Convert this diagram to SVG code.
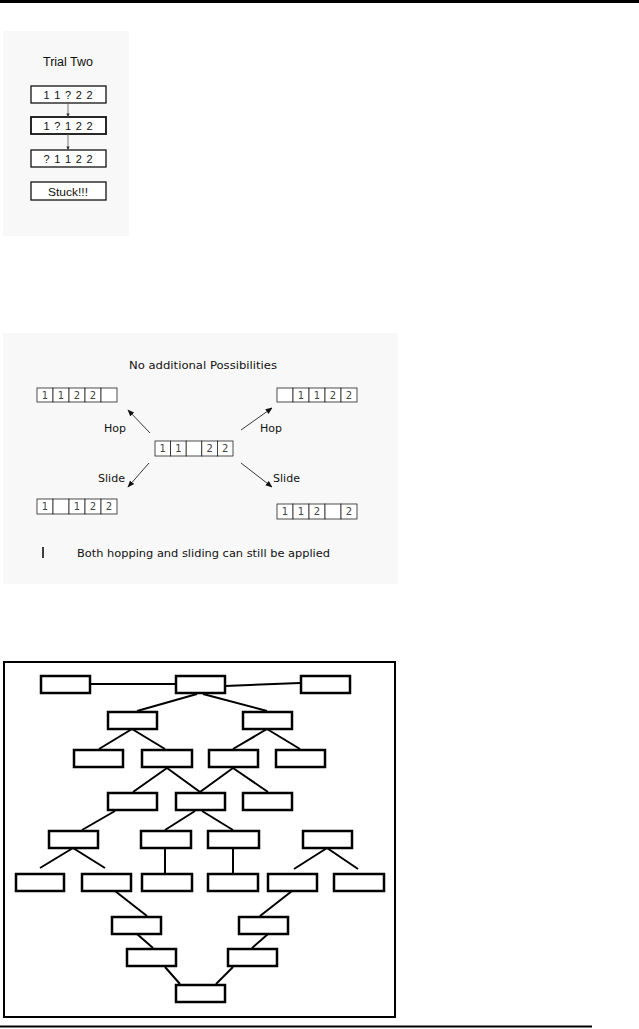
<svg xmlns="http://www.w3.org/2000/svg" width="639" height="1029" viewBox="0 0 639 1029">
<style>
.panel{fill:#f8f8f8}
.tb{fill:#fff;stroke:#111;stroke-width:1.3}
.tt{font-family:"Liberation Sans",Arial,sans-serif;font-size:11px;text-anchor:middle;fill:#111}
.cell{fill:#fff;stroke:#222;stroke-width:0.8}
.dg{font-family:"DejaVu Sans",Verdana,sans-serif;font-size:10px;text-anchor:middle;fill:#444}
.lb{font-family:"DejaVu Sans",Verdana,sans-serif;font-size:11px;fill:#111}
.ar{stroke:#222;stroke-width:0.9;fill:none;marker-end:url(#ah)}
.va{stroke:#555;stroke-width:0.8;fill:none;marker-end:url(#ah2)}
.nd{fill:#fff;stroke:#000;stroke-width:2.5}
.ed{stroke:#000;stroke-width:2;fill:none}
</style>
<defs>
<marker id="ah" viewBox="0 0 10 10" refX="9" refY="5" markerWidth="7" markerHeight="7" markerUnits="userSpaceOnUse" orient="auto"><path d="M0,1 L10,5 L0,9 Z" fill="#111"/></marker>
<marker id="ah2" viewBox="0 0 10 10" refX="9" refY="5" markerWidth="4" markerHeight="4" markerUnits="userSpaceOnUse" orient="auto"><path d="M0,1 L10,5 L0,9 Z" fill="#333"/></marker>
</defs>

<rect x="0" y="0" width="639" height="3" fill="#000"/>

<g id="panel-trial-two">
<rect class="panel" x="3" y="31" width="126" height="205"/>
<text class="tt" x="68" y="66" style="font-size:12.5px">Trial Two</text>
<g id="t1"><rect class="tb" x="31" y="86" width="75" height="17"/><text class="tt" x="68" y="98.5" textLength="49" lengthAdjust="spacing">1 1 ? 2 2</text></g>
<g id="t2"><rect class="tb" x="31" y="117" width="75" height="17" style="stroke-width:1.8"/><text class="tt" x="68" y="129.5" textLength="49" lengthAdjust="spacing">1 ? 1 2 2</text></g>
<g id="t3"><rect class="tb" x="31" y="150" width="75" height="17"/><text class="tt" x="68" y="162.5" textLength="49" lengthAdjust="spacing">? 1 1 2 2</text></g>
<g id="t4"><rect class="tb" x="31" y="182" width="75" height="18"/><text class="tt" x="68" y="195.5" textLength="40" lengthAdjust="spacingAndGlyphs">Stuck!!!</text></g>
<g id="t-arrows">
<line class="va" x1="68" y1="103" x2="68" y2="117"/>
<line class="va" x1="68" y1="134" x2="68" y2="150"/>
</g>
</g>

<g id="panel-possibilities">
<rect class="panel" x="3" y="333" width="395" height="251"/>
<text class="lb" x="129" y="369" textLength="148" lengthAdjust="spacingAndGlyphs">No additional Possibilities</text>

<g id="arr-tl">
<rect class="cell" x="37" y="388" width="16" height="14"/><rect class="cell" x="53" y="388" width="16" height="14"/><rect class="cell" x="69" y="388" width="16" height="14"/><rect class="cell" x="85" y="388" width="16" height="14"/><rect class="cell" x="101" y="388" width="16" height="14"/>
<text class="dg" x="45" y="398.5">1</text><text class="dg" x="61" y="398.5">1</text><text class="dg" x="77" y="398.5">2</text><text class="dg" x="93" y="398.5">2</text>
</g>
<g id="arr-tr">
<rect class="cell" x="277" y="388" width="16" height="14"/><rect class="cell" x="293" y="388" width="16" height="14"/><rect class="cell" x="309" y="388" width="16" height="14"/><rect class="cell" x="325" y="388" width="16" height="14"/><rect class="cell" x="341" y="388" width="16" height="14"/>
<text class="dg" x="301" y="398.5">1</text><text class="dg" x="317" y="398.5">1</text><text class="dg" x="333" y="398.5">2</text><text class="dg" x="349" y="398.5">2</text>
</g>
<g id="arr-c">
<rect class="cell" x="155" y="441" width="15.6" height="15"/><rect class="cell" x="170.6" y="441" width="15.6" height="15"/><rect class="cell" x="186.2" y="441" width="15.6" height="15"/><rect class="cell" x="201.8" y="441" width="15.6" height="15"/><rect class="cell" x="217.4" y="441" width="15.6" height="15"/>
<text class="dg" x="162.8" y="452">1</text><text class="dg" x="178.4" y="452">1</text><text class="dg" x="209.6" y="452">2</text><text class="dg" x="225.2" y="452">2</text>
</g>
<g id="arr-bl">
<rect class="cell" x="37" y="499" width="16" height="15"/><rect class="cell" x="53" y="499" width="16" height="15"/><rect class="cell" x="69" y="499" width="16" height="15"/><rect class="cell" x="85" y="499" width="16" height="15"/><rect class="cell" x="101" y="499" width="16" height="15"/>
<text class="dg" x="45" y="510">1</text><text class="dg" x="77" y="510">1</text><text class="dg" x="93" y="510">2</text><text class="dg" x="109" y="510">2</text>
</g>
<g id="arr-br">
<rect class="cell" x="277" y="504" width="16" height="15"/><rect class="cell" x="293" y="504" width="16" height="15"/><rect class="cell" x="309" y="504" width="16" height="15"/><rect class="cell" x="325" y="504" width="16" height="15"/><rect class="cell" x="341" y="504" width="16" height="15"/>
<text class="dg" x="285" y="515">1</text><text class="dg" x="301" y="515">1</text><text class="dg" x="317" y="515">2</text><text class="dg" x="349" y="515">2</text>
</g>

<g id="moves">
<line class="ar" x1="150" y1="433" x2="128" y2="410"/>
<line class="ar" x1="241" y1="430" x2="272" y2="408"/>
<line class="ar" x1="149" y1="463" x2="128" y2="487"/>
<line class="ar" x1="241" y1="463" x2="272" y2="487"/>
</g>
<text class="lb" x="104" y="432" textLength="22" lengthAdjust="spacingAndGlyphs">Hop</text>
<text class="lb" x="260" y="432" textLength="22" lengthAdjust="spacingAndGlyphs">Hop</text>
<text class="lb" x="98" y="482" textLength="27" lengthAdjust="spacingAndGlyphs">Slide</text>
<text class="lb" x="273" y="482" textLength="27" lengthAdjust="spacingAndGlyphs">Slide</text>
<line x1="43" y1="547" x2="43" y2="558" stroke="#111" stroke-width="1.6"/>
<text class="lb" x="77" y="557" textLength="253" lengthAdjust="spacingAndGlyphs">Both hopping and sliding can still be applied</text>
</g>

<g id="tree">
<rect x="4" y="662" width="391" height="355" fill="#fff" stroke="#000" stroke-width="2"/>
<g id="edges">
<line class="ed" x1="91" y1="684" x2="175" y2="684"/>
<line class="ed" x1="225" y1="686" x2="300" y2="683"/>
<line class="ed" x1="197" y1="694" x2="137" y2="711"/>
<line class="ed" x1="203" y1="694" x2="267" y2="711"/>
<line class="ed" x1="132" y1="729" x2="99" y2="749"/>
<line class="ed" x1="132" y1="729" x2="165" y2="749"/>
<line class="ed" x1="267" y1="729" x2="233" y2="749"/>
<line class="ed" x1="267" y1="729" x2="300" y2="749"/>
<line class="ed" x1="167" y1="768" x2="133" y2="792"/>
<line class="ed" x1="167" y1="768" x2="200" y2="792"/>
<line class="ed" x1="233" y1="768" x2="200" y2="792"/>
<line class="ed" x1="233" y1="768" x2="268" y2="792"/>
<line class="ed" x1="115" y1="811" x2="82" y2="830"/>
<line class="ed" x1="195" y1="811" x2="165" y2="830"/>
<line class="ed" x1="202" y1="811" x2="233" y2="830"/>
<line class="ed" x1="73" y1="848" x2="40" y2="868"/>
<line class="ed" x1="73" y1="848" x2="105" y2="868"/>
<line class="ed" x1="165" y1="848" x2="165" y2="873"/>
<line class="ed" x1="233" y1="848" x2="233" y2="873"/>
<line class="ed" x1="327" y1="848" x2="294" y2="869"/>
<line class="ed" x1="327" y1="848" x2="358" y2="869"/>
<line class="ed" x1="115" y1="891" x2="147" y2="916"/>
<line class="ed" x1="292" y1="891" x2="260" y2="916"/>
<line class="ed" x1="137" y1="934" x2="153" y2="948"/>
<line class="ed" x1="268" y1="934" x2="252" y2="948"/>
<line class="ed" x1="165" y1="967" x2="180" y2="984"/>
<line class="ed" x1="233" y1="967" x2="216" y2="984"/>
</g>
<g id="n0a"><rect class="nd" x="41" y="676" width="49" height="17"/></g>
<g id="n0b"><rect class="nd" x="176" y="676" width="49" height="17"/></g>
<g id="n0c"><rect class="nd" x="301" y="676" width="49" height="17"/></g>
<g id="n1a"><rect class="nd" x="108" y="712" width="49" height="17"/></g>
<g id="n1b"><rect class="nd" x="243" y="712" width="49" height="17"/></g>
<g id="n2a"><rect class="nd" x="74" y="750" width="49" height="17"/></g>
<g id="n2b"><rect class="nd" x="142" y="750" width="50" height="17"/></g>
<g id="n2c"><rect class="nd" x="209" y="750" width="49" height="17"/></g>
<g id="n2d"><rect class="nd" x="276" y="750" width="49" height="17"/></g>
<g id="n3a"><rect class="nd" x="108" y="793" width="49" height="17"/></g>
<g id="n3b"><rect class="nd" x="176" y="793" width="49" height="17"/></g>
<g id="n3c"><rect class="nd" x="243" y="793" width="49" height="17"/></g>
<g id="n4a"><rect class="nd" x="49" y="831" width="49" height="17"/></g>
<g id="n4b"><rect class="nd" x="141" y="831" width="50" height="17"/></g>
<g id="n4c"><rect class="nd" x="208" y="831" width="51" height="17"/></g>
<g id="n4d"><rect class="nd" x="303" y="831" width="49" height="17"/></g>
<g id="n5a"><rect class="nd" x="16" y="874" width="48" height="17"/></g>
<g id="n5b"><rect class="nd" x="82" y="874" width="49" height="17"/></g>
<g id="n5c"><rect class="nd" x="142" y="874" width="50" height="17"/></g>
<g id="n5d"><rect class="nd" x="208" y="874" width="50" height="17"/></g>
<g id="n5e"><rect class="nd" x="268" y="874" width="49" height="17"/></g>
<g id="n5f"><rect class="nd" x="334" y="874" width="50" height="17"/></g>
<g id="n6a"><rect class="nd" x="112" y="917" width="49" height="17"/></g>
<g id="n6b"><rect class="nd" x="239" y="917" width="49" height="17"/></g>
<g id="n7a"><rect class="nd" x="127" y="949" width="49" height="17"/></g>
<g id="n7b"><rect class="nd" x="228" y="949" width="49" height="17"/></g>
<g id="n8"><rect class="nd" x="176" y="985" width="49" height="17"/></g>
</g>

<line x1="0" y1="1026.5" x2="592" y2="1026.5" stroke="#000" stroke-width="2"/>
</svg>
